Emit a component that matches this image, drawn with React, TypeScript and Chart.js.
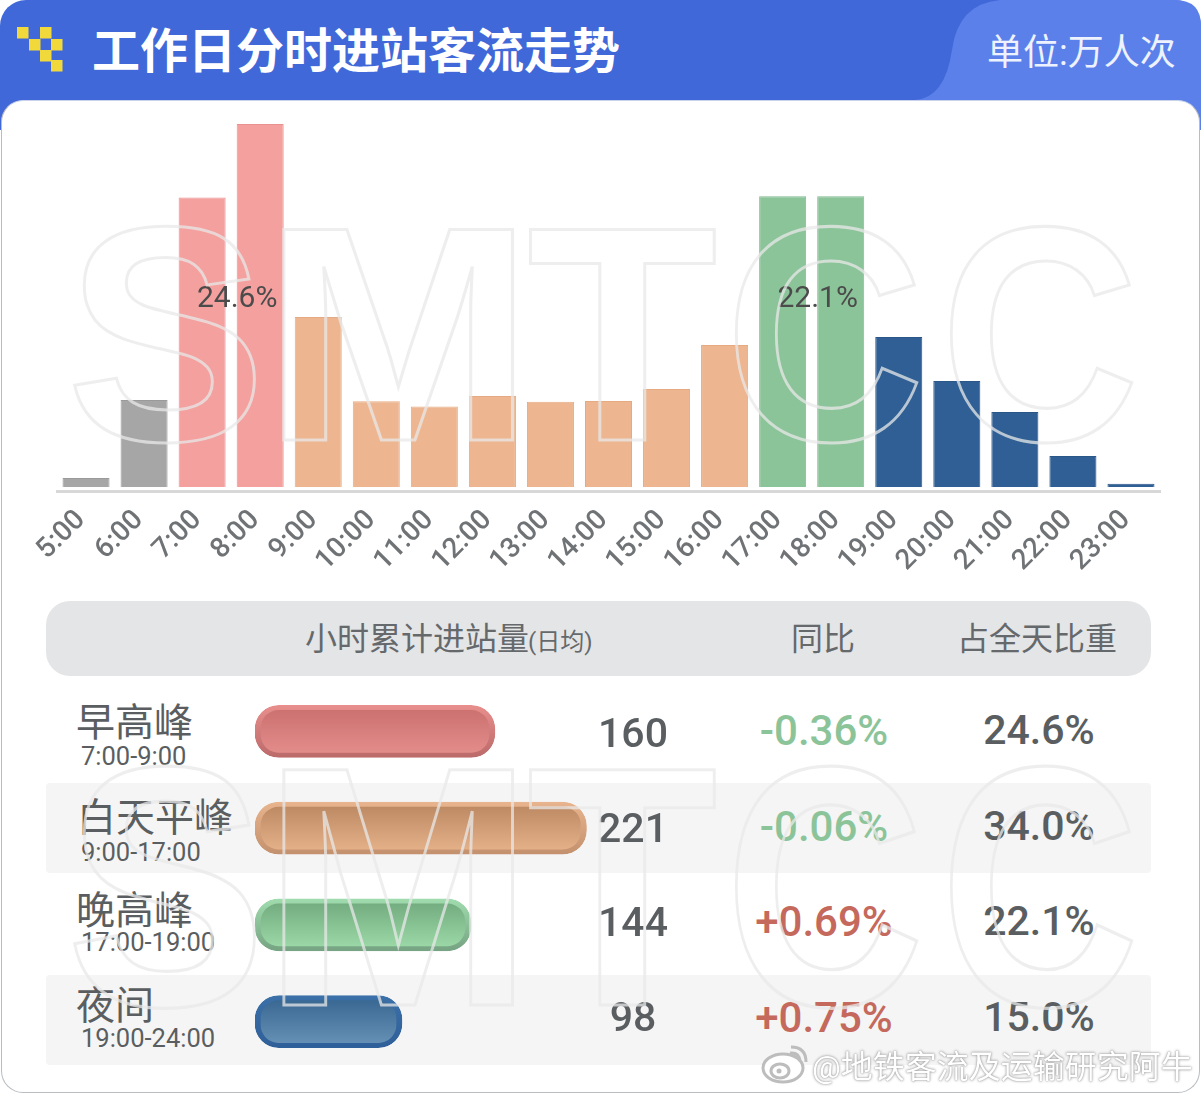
import Chart from 'chart.js/auto';
import { useEffect, useRef } from 'react';

const hours = ['5:00', '6:00', '7:00', '8:00', '9:00', '10:00', '11:00', '12:00', '13:00', '14:00', '15:00', '16:00', '17:00', '18:00', '19:00', '20:00', '21:00', '22:00', '23:00'];
const hourValues = [2.2, 21.3, 71, 89, 41.7, 21, 19.7, 22.3, 20.9, 21.1, 24, 34.8, 71.3, 71.3, 36.8, 26, 18.4, 7.6, 0.8];

const GREY = '#a6a6a6';
const RED = '#f3a09e';
const ORANGE = '#edb690';
const GREEN = '#8cc49a';
const BLUE = '#2f5f94';
const hourColors = [GREY, GREY, RED, RED, ORANGE, ORANGE, ORANGE, ORANGE, ORANGE, ORANGE, ORANGE, ORANGE, GREEN, GREEN, BLUE, BLUE, BLUE, BLUE, BLUE];
const hourEdges = hourColors.map((c) =>
  c === GREY ? '#9a9a9a' : c === RED ? '#ea908f' : c === ORANGE ? '#e6aa82' : c === GREEN ? '#80ba8e' : '#2a5688',
);

const peakShares = ['24.6%', '22.1%'];
const peakFirstBars = ['7:00', '17:00'];

const periods = ['早高峰', '白天平峰', '晚高峰', '夜间'];
const periodTimes = ['7:00-9:00', '9:00-17:00', '17:00-19:00', '19:00-24:00'];
const periodValues = [160, 221, 144, 98];
const yoyLabels = ['-0.36%', '-0.06%', '+0.69%', '+0.75%'];
const shareLabels = ['24.6%', '34.0%', '22.1%', '15.0%'];

const pillEdgeTop = ['#e88f8d', '#e8b48e', '#a0dcae', '#3c70a8'];
const pillEdgeBottom = ['#bb6a6a', '#c4916e', '#76a382', '#2f5f98'];
const pillFillTop = ['#c96f6e', '#b98660', '#6fa87c', '#35648f'];
const pillFillBottom = ['#e58f8d', '#e8b48c', '#9fdcaa', '#6a94b8'];

const CJK = 'Roboto, "Noto Sans CJK SC", sans-serif';
const TEXT = '#5a5e60';

// rows are not perfectly even in the picture, these are the text centres
const rowTextY = [731, 827, 922, 1018];
const rowValueY = [733, 828, 922, 1017];
const rowLabelY = [723, 818, 911, 1006];
const rowTimeY = [757, 853, 943, 1039];
const rowLabelX = [76, 77, 76, 76];
const valueX = 633;

const markLetters = ['S', 'M', 'T', 'C', 'C'];
const markX = [66, 262, 527, 725, 940];
const markStretch = [1, 1.09, 1.04, 0.92, 0.92];

const shareLabelPlugin = {
  id: 'shareLabels',
  afterDatasetsDraw(chart: any) {
    const { ctx, scales } = chart;
    ctx.save();
    ctx.font = '30px ' + CJK;
    ctx.fillStyle = '#4b4b4b';
    ctx.textAlign = 'center';
    ctx.textBaseline = 'middle';
    peakFirstBars.forEach((h, i) => {
      const idx = hours.indexOf(h);
      const x = (scales.x.getPixelForValue(idx) + scales.x.getPixelForValue(idx + 1)) / 2 + 6;
      ctx.fillText(peakShares[i], x, scales.y.getPixelForValue(46));
    });
    ctx.restore();
  },
};

function absText(text: string, x: number, y: number, size: number, color: string, extra: any = {}) {
  return (
    <div
      key={text + x + y}
      style={{
        position: 'absolute',
        left: x,
        top: y,
        transform: extra.center ? 'translate(-50%, -50%)' : 'translateY(-50%)',
        fontSize: size,
        color,
        fontFamily: CJK,
        lineHeight: 1,
        whiteSpace: 'nowrap',
        fontWeight: extra.weight ?? 400,
        textShadow: extra.shadow,
      }}
    >
      {text}
    </div>
  );
}

export default function App() {
  const hourRef = useRef<HTMLCanvasElement>(null);
  const pillRef = useRef<HTMLCanvasElement>(null);

  useEffect(() => {
    if (!hourRef.current || !pillRef.current) return;

    const hourChart = new Chart(hourRef.current, {
      type: 'bar',
      data: {
        labels: hours,
        datasets: [
          {
            data: hourValues,
            backgroundColor: hourColors,
            borderColor: hourEdges,
            borderWidth: 1,
            barPercentage: 0.81,
            categoryPercentage: 1,
          },
        ],
      },
      options: {
        responsive: false,
        animation: false,
        layout: { padding: { left: 57, right: 41, top: 120, bottom: 0 } },
        plugins: { legend: { display: false }, tooltip: { enabled: false } },
        scales: {
          y: { display: false, min: -1, max: 90 },
          x: {
            afterFit: (scale: any) => {
              scale.height = 109;
            },
            grid: { drawOnChartArea: false, drawTicks: false },
            border: { color: '#d8d8d8', width: 3 },
            ticks: {
              autoSkip: false,
              minRotation: 45,
              maxRotation: 45,
              padding: 8,
              color: '#707375',
              font: { family: 'Roboto', size: 28, weight: '500' },
              // trailing space pushes the rotated text down and to the left
              callback: (_: any, i: number) => hours[i] + ' ',
            },
          },
        },
      },
      plugins: [shareLabelPlugin],
    } as any);

    const barHeight = 52;
    const gradient = (ctx: any, tops: string[], bottoms: string[]) => {
      const chart = ctx.chart;
      const mid = chart.scales.y.getPixelForValue(ctx.dataIndex);
      // options get resolved once before the layout is done
      if (!Number.isFinite(mid)) return tops[ctx.dataIndex];
      const g = chart.ctx.createLinearGradient(0, mid - barHeight / 2, 0, mid + barHeight / 2);
      g.addColorStop(0, tops[ctx.dataIndex]);
      g.addColorStop(1, bottoms[ctx.dataIndex]);
      return g;
    };

    const pillChart = new Chart(pillRef.current, {
      type: 'bar',
      data: {
        labels: periods,
        datasets: [
          {
            data: periodValues,
            barThickness: barHeight,
            borderRadius: 24,
            borderSkipped: false,
            borderWidth: { top: 5, right: 6, bottom: 5, left: 6 },
            backgroundColor: (ctx: any) => gradient(ctx, pillFillTop, pillFillBottom),
            borderColor: (ctx: any) => gradient(ctx, pillEdgeTop, pillEdgeBottom),
          },
        ],
      },
      options: {
        indexAxis: 'y',
        responsive: false,
        animation: false,
        plugins: { legend: { display: false }, tooltip: { enabled: false } },
        scales: {
          x: { display: false, min: 0, max: 266 },
          y: { display: false },
        },
      },
    } as any);

    return () => {
      hourChart.destroy();
      pillChart.destroy();
    };
  }, []);

  return (
    <div style={{ position: 'absolute', left: 0, top: 0, width: 1201, height: 1094, overflow: 'hidden', background: '#fff' }}>
      {/* header */}
      <div style={{ position: 'absolute', left: 0, top: 0, width: 1201, height: 130, background: '#4068d8', borderRadius: '26px 26px 0 0' }} />
      <svg width={1201} height={130} style={{ position: 'absolute', left: 0, top: 0 }}>
        <path d="M915 100 Q945 98 952 50 Q958 4 1000 0 L1175 0 Q1201 0 1201 26 L1201 130 L915 130 Z" fill="#5b80ea" />
        {[[17, 27], [40, 27], [29, 39], [51, 39], [40, 50], [51, 60]].map(([x, y]) => (
          <rect key={x + '-' + y} x={x} y={y} width={11.5} height={11.5} fill="#f1d93c" />
        ))}
      </svg>
      {absText('工作日分时进站客流走势', 92, 52, 48, '#ffffff', { weight: 700 })}
      {absText('单位:万人次', 987, 53, 36, '#eef2ff')}

      {/* card */}
      <div style={{ position: 'absolute', left: 1, top: 100, width: 1197, height: 991, background: '#fff', border: '1.5px solid #b9bcc0', borderTop: '1px solid #c9d2ea', borderRadius: 22 }} />

      {/* table backgrounds */}
      <div style={{ position: 'absolute', left: 46, top: 601, width: 1105, height: 75, background: '#e4e5e7', borderRadius: 24 }} />
      <div style={{ position: 'absolute', left: 46, top: 783, width: 1105, height: 90, background: '#f5f5f5', borderRadius: 4 }} />
      <div style={{ position: 'absolute', left: 46, top: 975, width: 1105, height: 90, background: '#f5f5f5', borderRadius: 4 }} />

      <canvas ref={hourRef} width={1201} height={600} style={{ position: 'absolute', left: 0, top: 0 }} />
      <canvas ref={pillRef} width={399} height={387} style={{ position: 'absolute', left: 255, top: 683 }} />

      {/* table text */}
      {absText('小时累计进站量', 305, 639, 32, '#66696b')}
      {absText('(日均)', 528, 642, 24, '#66696b')}
      {absText('同比', 791, 639, 32, '#66696b')}
      {absText('占全天比重', 957, 639, 32, '#66696b')}
      {periods.map((p, i) => absText(p, rowLabelX[i], rowLabelY[i], 39, TEXT))}
      {periodTimes.map((p, i) => absText(p, 81, rowTimeY[i], 25.5, TEXT))}
      {periodValues.map((v, i) => absText(String(v), valueX, rowValueY[i], 41, TEXT, { center: true, weight: 500 }))}
      {yoyLabels.map((v, i) => absText(v, 824, rowTextY[i], 42, v[0] === '-' ? '#8cc49a' : '#c4695c', { center: true, weight: 500 }))}
      {shareLabels.map((v, i) => absText(v, 1039, rowTextY[i] - 1, 41, TEXT, { center: true, weight: 500 }))}

      {/* watermark */}
      <svg width={1201} height={1094} style={{ position: 'absolute', left: 0, top: 0, pointerEvents: 'none' }}>
        {[
          [440, 1.02],
          [1005, 1.14],
        ].map(([y, sy]) =>
          markLetters.map((letter, i) => (
            <text
              key={y + '-' + i}
              transform={`translate(${markX[i]} ${y}) scale(${markStretch[i]} ${sy})`}
              fontFamily="Liberation Sans"
              fontWeight={700}
              fontSize={300}
              fill="none"
              stroke="#e8e8e8"
              strokeOpacity={0.75}
              strokeWidth={3}
              vectorEffect="non-scaling-stroke"
            >
              {letter}
            </text>
          )),
        )}
        <ellipse cx={783} cy={1068} rx={20} ry={14} fill="#fff" stroke="#bdbdbd" strokeWidth={3} />
        <ellipse cx={780} cy={1071} rx={9} ry={7} fill="none" stroke="#bdbdbd" strokeWidth={3} />
        <circle cx={779} cy={1071} r={2.5} fill="#bdbdbd" />
        <path d="M790 1053 Q799 1052 800 1061" fill="none" stroke="#bdbdbd" strokeWidth={3} />
        <path d="M791 1047 Q806 1047 806 1062" fill="none" stroke="#bdbdbd" strokeWidth={3} />
      </svg>
      {absText('@地铁客流及运输研究阿牛', 812, 1067, 32, '#ffffff', { shadow: '0 0 3px #8f8f8f, 0 0 1px #8f8f8f' })}
    </div>
  );
}
